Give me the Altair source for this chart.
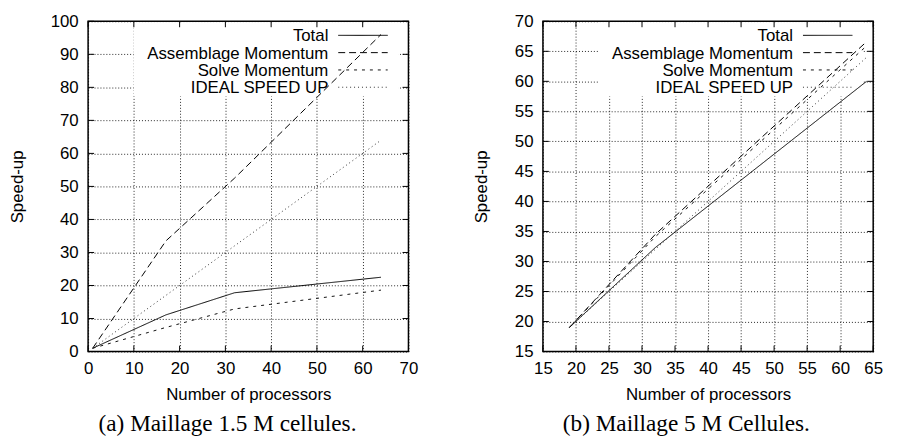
import altair as alt
import pandas as pd

FONT = "Liberation Sans"
SERIF = "Liberation Serif"

names = ["Total", "Assemblage Momentum", "Solve Momentum", "IDEAL SPEED UP"]
dashes = [[1, 0], [7, 4], [3, 5], [1, 3]]
colors = ["#000000", "#000000", "#111111", "#333333"]

# (a) Maillage 1.5 M cellules
procs_a = [1, 17, 32, 64]
total_a = [1, 11.1, 17.8, 22.5]
assemb_a = [1, 33.5, 52.5, 96]
solve_a = [1, 7.3, 12.9, 18.6]
ideal_a = [1, 17, 32, 64]

# (b) Maillage 5 M Cellules
procs_b = [19, 32, 64]
total_b = [19, 32.3, 60]
assemb_b = [19, 34.5, 66.6]
solve_b = [19, 34.1, 65.9]
ideal_b = [19, 32, 64]

xticks_a = [0, 10, 20, 30, 40, 50, 60, 70]
yticks_a = [0, 10, 20, 30, 40, 50, 60, 70, 80, 90, 100]
xticks_b = [15, 20, 25, 30, 35, 40, 45, 50, 55, 60, 65]
yticks_b = [15, 20, 25, 30, 35, 40, 45, 50, 55, 60, 65, 70]


def panel(procs, series_vals, xdom, ydom, xticks, yticks, W, H, caption, cap_dx):
    rows = []
    for n, vals in zip(names, series_vals):
        for p, v in zip(procs, vals):
            rows.append({"proc": p, "val": v, "series": n})
    df = pd.DataFrame(rows)

    X = alt.X("proc:Q", scale=alt.Scale(domain=xdom, nice=False, zero=False),
              axis=alt.Axis(values=xticks, title="Number of processors", grid=True,
                            ticks=False, domain=False, labelPadding=9, titlePadding=11,
                            labelFlush=False, format="d"))
    Y = alt.Y("val:Q", scale=alt.Scale(domain=ydom, nice=False, zero=False),
              axis=alt.Axis(values=yticks, title="Speed-up", grid=True, ticks=False,
                            domain=False, labelPadding=10, titlePadding=24,
                            labelFlush=False, format="d"))

    box = alt.Chart(pd.DataFrame({"a": [0]})).mark_rect(fill="white").encode(
        x=alt.value(W - 278), x2=alt.value(W - 10), y=alt.value(1), y2=alt.value(76))

    xt = pd.DataFrame({"proc": xticks})
    yt = pd.DataFrame({"val": yticks})
    tick_top = alt.Chart(xt).mark_rule(color="black").encode(x=X, y=alt.value(0), y2=alt.value(6))
    tick_bot = alt.Chart(xt).mark_rule(color="black").encode(x=X, y=alt.value(H - 6), y2=alt.value(H))
    tick_l = alt.Chart(yt).mark_rule(color="black").encode(y=Y, x=alt.value(0), x2=alt.value(6))
    tick_r = alt.Chart(yt).mark_rule(color="black").encode(y=Y, x=alt.value(W - 6), x2=alt.value(W))

    lines = alt.Chart(df).mark_line(strokeWidth=1, clip=True).encode(
        x=X, y=Y,
        strokeDash=alt.StrokeDash("series:N", scale=alt.Scale(domain=names, range=dashes), legend=None),
        color=alt.Color("series:N", scale=alt.Scale(domain=names, range=colors), legend=None),
    )

    legend = []
    for i, n in enumerate(names):
        base_y = 20.2 + 17.5 * i
        ld = pd.DataFrame({"name": [n]})
        legend.append(alt.Chart(ld).mark_text(align="right", baseline="alphabetic", fontSize=17,
                                              font=FONT, color="black").encode(
            x=alt.value(W - 81), y=alt.value(base_y), text=alt.Text("name:N")))
        legend.append(alt.Chart(ld).mark_rule(strokeDash=dashes[i], color=colors[i], strokeWidth=1).encode(
            x=alt.value(W - 71), x2=alt.value(W - 21), y=alt.value(base_y - 6)))

    return alt.layer(box, tick_top, tick_bot, tick_l, tick_r, lines, *legend).properties(
        width=W, height=H,
        title=alt.TitleParams(caption, orient="bottom", font=SERIF, fontSize=23.5,
                              fontWeight="normal", dx=cap_dx, offset=9, color="black"))


left = panel(procs_a, [total_a, assemb_a, solve_a, ideal_a], [0, 70], [0, 100],
             xticks_a, yticks_a, 324, 334, "(a) Maillage 1.5 M cellules.", -21)
right = panel(procs_b, [total_b, assemb_b, solve_b, ideal_b], [15, 65], [15, 70],
              xticks_b, yticks_b, 334, 334, "(b) Maillage 5 M Cellules.", -22)

chart = alt.hconcat(left, right, spacing=53).configure(
    font=FONT, padding={"left": -1, "top": 1, "right": 5, "bottom": 0}
).configure_view(stroke="black", strokeWidth=1.5).configure_axis(
    labelFont=FONT, titleFont=FONT, labelFontSize=17, titleFontSize=17,
    titleFontWeight="normal", labelColor="black", titleColor="black",
    gridColor="#000000", gridDash=[1, 2], gridOpacity=0.85, gridWidth=1)

chart.save("out.html", embed_options={"renderer": "svg", "actions": False})
